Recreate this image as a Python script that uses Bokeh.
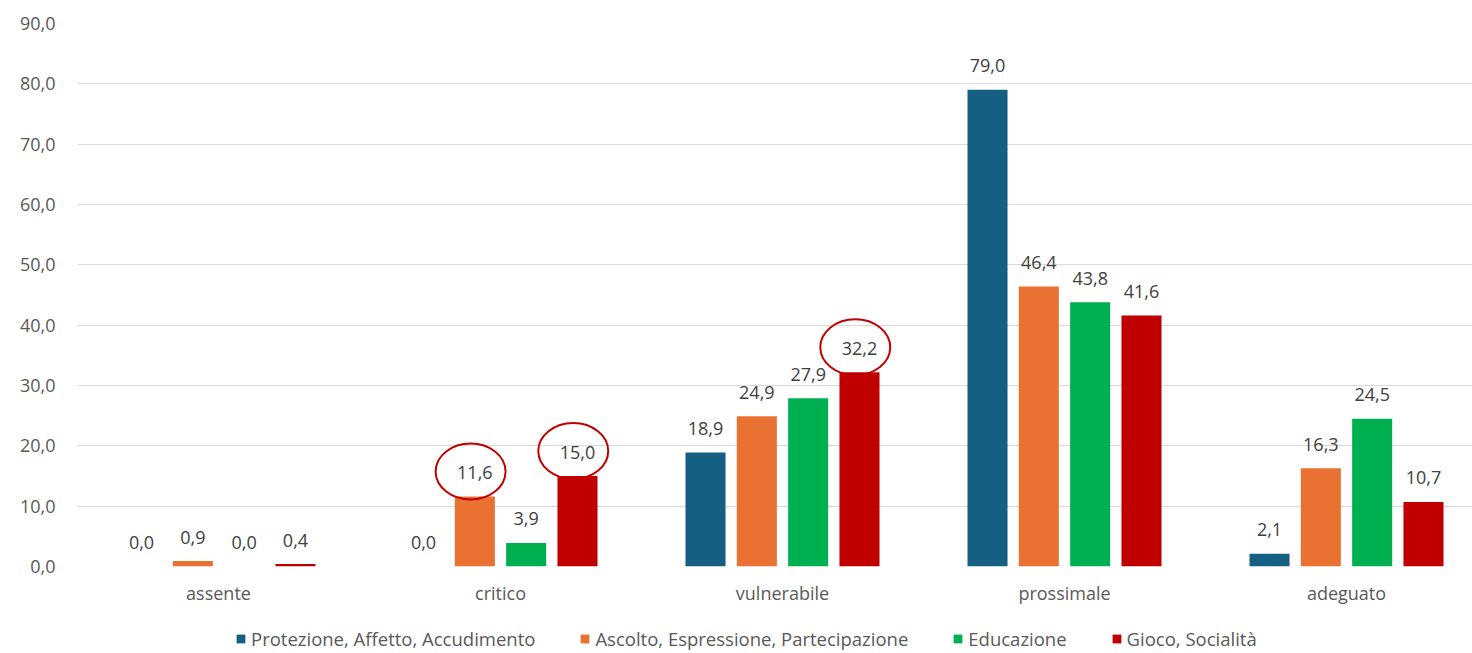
from bokeh.plotting import figure
from bokeh.layouts import column
from bokeh.models import (ColumnDataSource, Range1d, Legend, LegendItem, CustomJSTickFormatter,
                          FixedTicker)
from bokeh.embed import file_html
from bokeh.resources import INLINE
from bokeh.core.properties import value

categories = ["assente", "critico", "vulnerabile", "prossimale", "adeguato"]
series_names = ["Protezione, Affetto, Accudimento", "Ascolto, Espressione, Partecipazione",
                "Educazione", "Gioco, Socialità"]
protezione = [0.0, 0.0, 18.9, 79.0, 2.1]
ascolto = [0.9, 11.6, 24.9, 46.4, 16.3]
educazione = [0.0, 3.9, 27.9, 43.8, 24.5]
gioco = [0.4, 15.0, 32.2, 41.6, 10.7]
series_values = [protezione, ascolto, educazione, gioco]
colors = ["#156082", "#E97132", "#00B050", "#C00000"]
y_ticks = [0, 10, 20, 30, 40, 50, 60, 70, 80, 90]
# highlighted labels (category, series index)
highlights = [("critico", 1), ("critico", 3), ("vulnerabile", 3)]

FONT = "Open Sans"
W = 1472
MAIN_H, LEG_H = 613, 40
BL, BT = 77, 23
FRAME_H = 543
FRAME_W = W - BL
CAT_PX = 282                      # width of one category slot in the original chart
YMAX = 90
px_per_unit = FRAME_H / YMAX

p = figure(width=W, height=MAIN_H, x_range=Range1d(0, FRAME_W / CAT_PX), y_range=Range1d(0, YMAX),
           output_backend="svg", toolbar_location=None,
           min_border_left=BL, min_border_right=0, min_border_top=BT,
           min_border_bottom=MAIN_H - BT - FRAME_H)
p.outline_line_color = None
p.background_fill_color = "white"
p.border_fill_color = "white"

bar_w = 0.142
step = 0.182
offsets = [(-1.5 + i) * step for i in range(4)]
centers = [i + 0.5 for i in range(len(categories))]

renderers = []
for i, vals in enumerate(series_values):
    src = ColumnDataSource({
        "x": [c + offsets[i] for c in centers],
        "top": vals,
        "lab": [f"{v:.1f}".replace(".", ",") for v in vals],
    })
    r = p.vbar(x="x", top="top", width=bar_w, source=src, fill_color=colors[i], line_color=None)
    renderers.append(r)
    p.text(x="x", y="top", text="lab", source=src,
           text_align="center", text_baseline="middle", y_offset=-24,
           text_font=value(FONT), text_font_size="18px", text_color="#404040")

for cat, si in highlights:
    idx = categories.index(cat)
    v = series_values[si][idx]
    p.ellipse(x=[centers[idx] + offsets[si] - 0.015], y=[v + 25 / px_per_unit], width=0.248,
              height=56 / px_per_unit, fill_color=None, line_color="#C00000", line_width=2)

p.xgrid.grid_line_color = None
p.ygrid.grid_line_color = "#D9D9D9"
p.ygrid.grid_line_width = 1
p.yaxis.ticker = FixedTicker(ticks=y_ticks)
p.yaxis.formatter = CustomJSTickFormatter(code="return tick.toFixed(1).replace('.', ',');")
p.xaxis.ticker = FixedTicker(ticks=centers)
p.xaxis.major_label_overrides = {c: name for c, name in zip(centers, categories)}
for ax in (p.xaxis[0], p.yaxis[0]):
    ax.axis_line_color = None
    ax.major_tick_line_color = None
    ax.minor_tick_line_color = None
    ax.major_tick_in = 0
    ax.major_tick_out = 0
    ax.minor_tick_in = 0
    ax.minor_tick_out = 0
    ax.major_label_text_font = FONT
    ax.major_label_text_font_size = "18px"
    ax.major_label_text_color = "#595959"
p.yaxis.major_label_standoff = 22
p.xaxis.major_label_standoff = 14

# legend figure (its frame is aligned with the main plot's frame by the column layout)
q = figure(width=W, height=LEG_H, x_range=Range1d(0, 1), y_range=Range1d(0, 1),
           output_backend="svg", toolbar_location=None, x_axis_location=None, y_axis_location=None,
           min_border=0)
q.outline_line_color = None
q.grid.grid_line_color = None
# legend proxies: zero-height bars outside the visible range, so only the legend swatches show
leg_renderers = [q.vbar(x=[-5], top=[0], width=0.1, fill_color=c, line_color=None) for c in colors]
legend = Legend(items=[LegendItem(label=series_names[i], renderers=[leg_renderers[i]]) for i in range(4)],
                orientation="horizontal", location=(158, 2))
legend.label_text_font = FONT
legend.label_text_font_size = "18.5px"
legend.label_text_color = "#595959"
legend.glyph_width = 11
legend.glyph_height = 11
legend.label_standoff = 5
legend.spacing = 44
legend.border_line_color = None
legend.background_fill_alpha = 0
legend.margin = 0
legend.padding = 0
q.add_layout(legend, "center")

layout = column(p, q, spacing=0)
open("out.html", "w").write(file_html(layout, INLINE))
